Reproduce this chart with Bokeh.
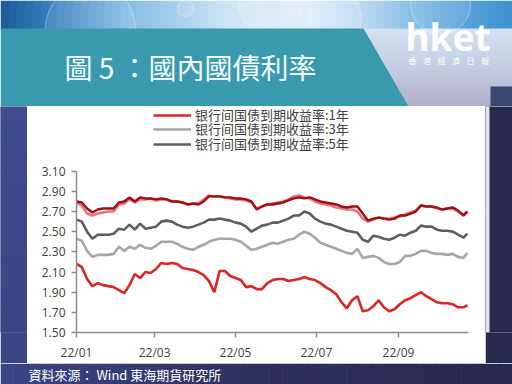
import pandas as pd
from datetime import datetime
from bokeh.plotting import figure
from bokeh.layouts import column, row
from bokeh.models import (Range1d, FixedTicker, NumeralTickFormatter,
                          DatetimeTickFormatter, Legend, LegendItem)
from bokeh.core.properties import value
from bokeh.embed import file_html
from bokeh.resources import INLINE

# ---------------- data ----------------
dates = pd.date_range("2022-01-01", periods=74, freq="4D").append(
    pd.DatetimeIndex(["2022-10-23"]))

yield_1y = [2.18, 2.15, 2.03, 1.96, 1.99, 1.97, 1.96, 1.95, 1.92, 1.89,
            1.97, 2.08, 2.04, 2.10, 2.09, 2.13, 2.19, 2.18, 2.19, 2.18,
            2.14, 2.13, 2.12, 2.10, 2.07, 2.01, 1.90, 2.11, 2.11, 2.06,
            2.04, 2.02, 1.95, 1.96, 1.93, 1.93, 1.99, 2.02, 2.03, 2.03,
            2.01, 2.02, 2.03, 2.05, 2.03, 2.02, 1.99, 1.95, 1.92, 1.88,
            1.80, 1.74, 1.82, 1.86, 1.71, 1.72, 1.76, 1.82, 1.75, 1.71,
            1.73, 1.78, 1.82, 1.84, 1.87, 1.90, 1.86, 1.83, 1.80, 1.79,
            1.79, 1.78, 1.75, 1.75, 1.77]
yield_3y = [2.43, 2.41, 2.31, 2.25, 2.27, 2.27, 2.27, 2.28, 2.35, 2.31,
            2.35, 2.33, 2.37, 2.34, 2.33, 2.36, 2.40, 2.40, 2.40, 2.38,
            2.35, 2.33, 2.32, 2.35, 2.37, 2.40, 2.42, 2.43, 2.43, 2.43,
            2.42, 2.40, 2.36, 2.32, 2.33, 2.35, 2.37, 2.39, 2.38, 2.40,
            2.42, 2.43, 2.47, 2.50, 2.48, 2.44, 2.39, 2.37, 2.35, 2.33,
            2.31, 2.29, 2.28, 2.33, 2.24, 2.25, 2.26, 2.24, 2.20, 2.18,
            2.18, 2.20, 2.26, 2.26, 2.28, 2.31, 2.31, 2.29, 2.28, 2.28,
            2.27, 2.28, 2.25, 2.24, 2.29]
yield_5y = [2.62, 2.60, 2.50, 2.43, 2.47, 2.47, 2.47, 2.48, 2.53, 2.52,
            2.57, 2.52, 2.58, 2.53, 2.54, 2.55, 2.60, 2.61, 2.60, 2.57,
            2.55, 2.54, 2.55, 2.57, 2.59, 2.62, 2.62, 2.63, 2.62, 2.61,
            2.59, 2.58, 2.55, 2.50, 2.53, 2.56, 2.57, 2.59, 2.59, 2.61,
            2.63, 2.66, 2.66, 2.70, 2.68, 2.63, 2.60, 2.58, 2.57, 2.55,
            2.53, 2.51, 2.50, 2.49, 2.42, 2.40, 2.46, 2.45, 2.43, 2.42,
            2.44, 2.47, 2.46, 2.49, 2.51, 2.56, 2.55, 2.55, 2.52, 2.51,
            2.51, 2.50, 2.47, 2.44, 2.48]
# two further series drawn in the picture without legend entries
yield_top_dark = [2.80, 2.79, 2.73, 2.69, 2.72, 2.73, 2.73, 2.73, 2.79, 2.80,
                  2.84, 2.80, 2.84, 2.83, 2.83, 2.82, 2.83, 2.82, 2.80, 2.80,
                  2.79, 2.77, 2.78, 2.77, 2.80, 2.85, 2.85, 2.85, 2.84, 2.84,
                  2.83, 2.83, 2.82, 2.80, 2.72, 2.75, 2.77, 2.77, 2.78, 2.79,
                  2.81, 2.83, 2.84, 2.83, 2.84, 2.82, 2.80, 2.79, 2.78, 2.77,
                  2.75, 2.74, 2.75, 2.75, 2.68, 2.61, 2.63, 2.64, 2.63, 2.62,
                  2.63, 2.66, 2.66, 2.68, 2.70, 2.76, 2.75, 2.75, 2.74, 2.72,
                  2.73, 2.74, 2.71, 2.66, 2.70]
yield_top_light = [2.79, 2.76, 2.68, 2.66, 2.68, 2.69, 2.70, 2.70, 2.77, 2.78,
                   2.82, 2.79, 2.82, 2.82, 2.83, 2.81, 2.82, 2.82, 2.80, 2.80,
                   2.79, 2.77, 2.78, 2.78, 2.82, 2.86, 2.85, 2.85, 2.84, 2.83,
                   2.82, 2.82, 2.81, 2.79, 2.73, 2.75, 2.77, 2.78, 2.79, 2.80,
                   2.82, 2.85, 2.86, 2.84, 2.83, 2.80, 2.78, 2.77, 2.76, 2.74,
                   2.73, 2.72, 2.72, 2.70, 2.63, 2.60, 2.62, 2.64, 2.63, 2.63,
                   2.64, 2.65, 2.67, 2.69, 2.71, 2.76, 2.75, 2.75, 2.73, 2.72,
                   2.73, 2.73, 2.70, 2.67, 2.70]

labels = ["银行间国债到期收益率:1年", "银行间国债到期收益率:3年", "银行间国债到期收益率:5年"]
x_tick_dates = ["2022-01-01", "2022-03-01", "2022-05-01", "2022-07-01", "2022-09-01"]
y_ticks = [1.50, 1.70, 1.90, 2.10, 2.30, 2.50, 2.70, 2.90, 3.10]

title_text = "圖 5 ：國內國債利率"
source_text = "資料來源： Wind 東海期貨研究所"
logo_text = "hket"
logo_sub = ["香", "港", "經", "濟", "日", "報"]


# ---------------- helpers for decoration ----------------
def _hex(c):
    c = c.lstrip("#")
    return tuple(int(c[i:i + 2], 16) for i in (0, 2, 4))


def _mix(stops, t):
    for (p0, c0), (p1, c1) in zip(stops[:-1], stops[1:]):
        if p0 <= t <= p1:
            f = 0 if p1 == p0 else (t - p0) / (p1 - p0)
            a, b = _hex(c0), _hex(c1)
            return "#%02x%02x%02x" % tuple(int(round(a[i] + (b[i] - a[i]) * f)) for i in range(3))
    return stops[-1][1]


def gradient(p, x0, x1, y0, y1, stops, n=40, horizontal=True):
    L, R, T, B, C = [], [], [], [], []
    for i in range(n):
        t = (i + 0.5) / n
        if horizontal:
            L.append(x0 + (x1 - x0) * i / n); R.append(x0 + (x1 - x0) * (i + 1) / n + 0.6)
            T.append(y0); B.append(y1)
        else:
            L.append(x0); R.append(x1)
            T.append(y0 + (y1 - y0) * i / n); B.append(y0 + (y1 - y0) * (i + 1) / n + 0.6)
        C.append(_mix(stops, t))
    p.quad(left=L, right=R, top=T, bottom=B, fill_color=C, line_color=None)


def deco_fig(w, h, bottom_border=0, fill=None):
    fh = h - bottom_border
    f = figure(width=w, height=h, x_range=Range1d(0, w), y_range=Range1d(fh, 0),
               toolbar_location=None, output_backend="svg",
               x_axis_location=None, y_axis_location=None, min_border=0,
               min_border_bottom=bottom_border)
    f.xgrid.visible = False
    f.ygrid.visible = False
    f.outline_line_color = None
    f.background_fill_color = fill
    f.border_fill_color = fill
    return f


# ---------------- top banner ----------------
TOP_H = 106
top = deco_fig(512, TOP_H)
gradient(top, 0, 512, 0, 29, [(0, "#1d5a97"), (0.08, "#2f78b8"), (0.25, "#86bde5"),
                              (0.45, "#cfe5f5"), (0.6, "#e0eef8"), (0.72, "#b5d7f0"),
                              (0.85, "#6cafe0"), (1, "#3d8fd1")], n=64)
gradient(top, 350, 512, 28, TOP_H, [(0, "#d2e3f3"), (0.5, "#c4cde2"), (1, "#aeafc7")],
         n=30, horizontal=False)
top.quad(left=[490], right=[512], top=[86], bottom=[TOP_H], fill_color="#3b4673", line_color=None)
top.circle(x=[90, 185, 270, 335, 440], y=[28, 8, 2, 18, 4], radius=[45, 8, 32, 26, 30],
           fill_color="white", fill_alpha=0.10, line_color="white", line_alpha=0.35)
top.patch(x=[0, 363, 408, 0], y=[28, 28, TOP_H, TOP_H], fill_color="#3a9aad", line_color=None)
top.text(x=[64], y=[66], text=[title_text], text_font=value("Noto Sans CJK TC"),
         text_font_size="28px", text_color="#f4fbff", text_baseline="middle", text_align="left")
top.text(x=[405], y=[36], text=[logo_text], text_font=value("Noto Sans"),
         text_font_style="bold", text_font_size="37px", text_color="white",
         text_baseline="middle", text_align="left")
top.text(x=[412 + 14.5 * i for i in range(6)], y=[60] * 6, text=logo_sub,
         text_font=value("Noto Sans CJK TC"), text_font_size="8px", text_color="white",
         text_baseline="middle", text_align="center")

# ---------------- middle row ----------------
MID_H = 257
BOTTOM_BORDER = 30
MAIN_W = 458
left = deco_fig(27, MID_H, BOTTOM_BORDER, fill="#3a4584")
gradient(left, 0, 27, 0, MID_H - BOTTOM_BORDER, [(0, "#3f4c8e"), (1, "#3a4584")],
         n=20, horizontal=False)

RW = 512 - 27 - MAIN_W
right = deco_fig(RW, MID_H, BOTTOM_BORDER, fill="#272a4f")
right.quad(left=[0], right=[4], top=[0], bottom=[MID_H - BOTTOM_BORDER],
           fill_color="#e4e4ec", line_color=None)

# main chart: frame spans from the figure top to the x axis; the value
# scale is set so that 3.10 sits 65 px below the top of the panel
FRAME_H = MID_H - BOTTOM_BORDER
PX_PER_UNIT = 162 / 1.60
y_top = 1.50 + FRAME_H / PX_PER_UNIT
x0 = datetime(2022, 1, 1)
x1 = datetime(2022, 10, 23, 20)
p = figure(width=MAIN_W, height=MID_H, x_axis_type="datetime",
           x_range=Range1d(x0, x1), y_range=Range1d(1.50, y_top),
           toolbar_location=None, output_backend="svg",
           min_border_left=49, min_border_right=MAIN_W - 49 - 392,
           min_border_top=0, min_border_bottom=BOTTOM_BORDER)
p.background_fill_color = "white"
p.border_fill_color = "white"
p.outline_line_color = None
p.xgrid.visible = False
p.ygrid.visible = False

r_pink = p.line(dates, yield_top_light, line_color="#e67676", line_width=2.6)
r_dark = p.line(dates, yield_top_dark, line_color="#a10d12", line_width=2.4)
r5 = p.line(dates, yield_5y, line_color="#5e5e5e", line_width=2.6)
r3 = p.line(dates, yield_3y, line_color="#a6a6a6", line_width=2.6)
r1 = p.line(dates, yield_1y, line_color="#dc2626", line_width=2.6)

p.yaxis.ticker = FixedTicker(ticks=y_ticks)
p.yaxis.bounds = (y_ticks[0], y_ticks[-1])
p.yaxis.formatter = NumeralTickFormatter(format="0.00")
p.xaxis.ticker = FixedTicker(ticks=[pd.Timestamp(d).timestamp() * 1000 for d in x_tick_dates])
fmt = "%y/%m"
p.xaxis.formatter = DatetimeTickFormatter(years=fmt, months=fmt, days=fmt, hours=fmt,
                                          minutes=fmt, seconds=fmt, milliseconds=fmt,
                                          microseconds=fmt, hourmin=fmt, minsec=fmt)
for ax in (p.xaxis, p.yaxis):
    ax.axis_line_color = "#8c8c8c"
    ax.axis_line_width = 1.5
    ax.major_tick_line_color = "#8c8c8c"
    ax.major_tick_line_width = 1.5
    ax.major_tick_out = 5
    ax.major_tick_in = 0
    ax.minor_tick_line_color = None
    ax.major_label_text_font = "Open Sans"
    ax.major_label_text_font_size = "12px"
    ax.major_label_text_color = "#404040"
    ax.major_label_standoff = 6

# one single-entry legend per series, stacked 14.5 px apart above the chart
for label, rend, bottom_px in zip(labels, [r1, r3, r5], [19, 33, 48]):
    lg = Legend(items=[LegendItem(label=label, renderers=[rend])],
                location=(77, FRAME_H - bottom_px), orientation="vertical")
    lg.background_fill_alpha = 0
    lg.border_line_color = None
    lg.padding = 0
    lg.margin = 0
    lg.spacing = 0
    lg.glyph_width = 38
    lg.glyph_height = 12
    lg.label_height = 12
    lg.label_standoff = 4
    lg.label_text_font = "Noto Sans CJK SC"
    lg.label_text_font_size = "13px"
    lg.label_text_color = "#404040"
    p.add_layout(lg, "center")

# ---------------- bottom strip ----------------
BOT_H = 384 - TOP_H - MID_H
bot = deco_fig(512, BOT_H)
gradient(bot, 0, 512, 0, BOT_H, [(0, "#3a4585"), (0.5, "#2c305f"), (1, "#262950")], n=40)
bot.text(x=[28], y=[BOT_H / 2 + 0.5], text=[source_text], text_font=value("Noto Sans CJK TC"),
         text_font_size="13px", text_color="white", text_baseline="middle", text_align="left")

layout = column(top, row(left, p, right, spacing=0), bot, spacing=0)
open("out.html", "w").write(file_html(layout, INLINE))
